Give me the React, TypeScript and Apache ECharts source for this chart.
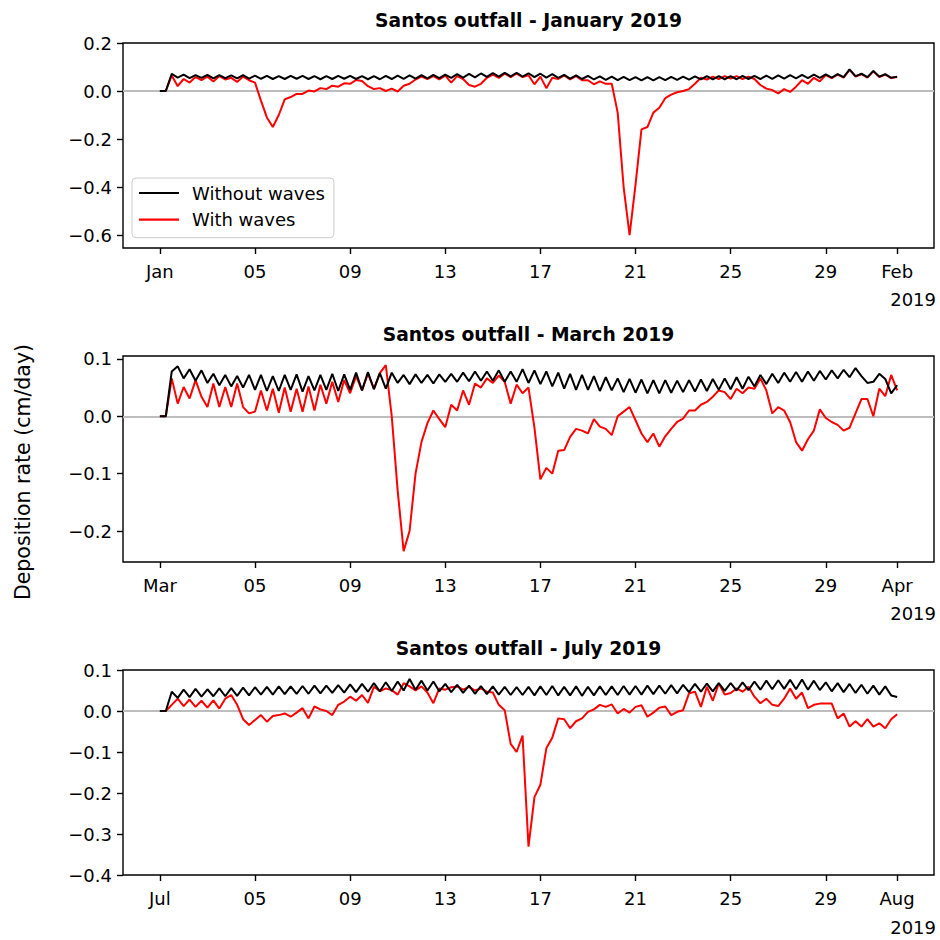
import { useEffect, useRef } from "react";
import * as echarts from "echarts";

// ---------------- data (6-hourly samples, day 0 = first of month) ----------------
const STEP_DAYS = 0.25;
const X_TICKS = [0, 4, 8, 12, 16, 20, 24, 28, 31];
const JAN_TICK_LABELS = ["Jan", "05", "09", "13", "17", "21", "25", "29", "Feb"];
const MAR_TICK_LABELS = ["Mar", "05", "09", "13", "17", "21", "25", "29", "Apr"];
const JUL_TICK_LABELS = ["Jul", "05", "09", "13", "17", "21", "25", "29", "Aug"];
const YEAR_LABEL = "2019";
const JAN_Y_TICKS = [-0.6, -0.4, -0.2, 0, 0.2];
const MAR_Y_TICKS = [-0.2, -0.1, 0, 0.1];
const JUL_Y_TICKS = [-0.4, -0.3, -0.2, -0.1, 0, 0.1];
const TITLES = [
  "Santos outfall - January 2019",
  "Santos outfall - March 2019",
  "Santos outfall - July 2019",
];
const Y_LABEL = "Deposition rate (cm/day)";
const SERIES_NAMES = ["Without waves", "With waves"];

const JAN_WITHOUT = [
  0, 0, 0.072, 0.056,
  0.068, 0.054, 0.066, 0.055,
  0.067, 0.053, 0.066, 0.054,
  0.065, 0.053, 0.066, 0.052,
  0.064, 0.051, 0.063, 0.05,
  0.062, 0.05, 0.063, 0.051,
  0.063, 0.05, 0.062, 0.049,
  0.062, 0.05, 0.063, 0.051,
  0.063, 0.05, 0.062, 0.049,
  0.062, 0.049, 0.063, 0.05,
  0.064, 0.051, 0.065, 0.052,
  0.066, 0.053, 0.067, 0.054,
  0.068, 0.055, 0.07, 0.056,
  0.071, 0.057, 0.073, 0.059,
  0.075, 0.06, 0.076, 0.061,
  0.076, 0.06, 0.074, 0.058,
  0.072, 0.056, 0.07, 0.055,
  0.067, 0.052, 0.065, 0.05,
  0.063, 0.048, 0.061, 0.046,
  0.06, 0.045, 0.059, 0.045,
  0.058, 0.044, 0.058, 0.044,
  0.058, 0.045, 0.059, 0.046,
  0.06, 0.047, 0.061, 0.048,
  0.062, 0.048, 0.062, 0.049,
  0.062, 0.049, 0.063, 0.05,
  0.063, 0.05, 0.064, 0.051,
  0.065, 0.052, 0.066, 0.053,
  0.067, 0.054, 0.068, 0.055,
  0.069, 0.056, 0.07, 0.058,
  0.09, 0.062, 0.072, 0.058,
  0.084, 0.06, 0.07, 0.055,
  0.06,
];

const JAN_WITH = [
  0, 0, 0.065, 0.02,
  0.05, 0.035, 0.058, 0.045,
  0.06, 0.04, 0.062, 0.048,
  0.055, 0.038, 0.06, 0.045,
  0.035, -0.04, -0.11, -0.15,
  -0.1, -0.035, -0.025, -0.012,
  -0.012, 0.002, -0.002, 0.012,
  0.008, 0.022, 0.018, 0.032,
  0.03, 0.046, 0.042, 0.02,
  0.008, 0.012, 0.0, 0.01,
  -0.002, 0.022, 0.03, 0.048,
  0.06, 0.05, 0.062, 0.048,
  0.064, 0.035, 0.062, 0.05,
  0.025, 0.018, 0.03, 0.055,
  0.068, 0.055, 0.072, 0.058,
  0.072, 0.058, 0.065, 0.028,
  0.06, 0.012, 0.055, 0.05,
  0.065, 0.048, 0.062, 0.045,
  0.045, 0.028, 0.04, 0.03,
  0.03, -0.09, -0.4, -0.6,
  -0.39, -0.16, -0.15, -0.09,
  -0.07, -0.03, -0.015, -0.005,
  0.0, 0.008, 0.03, 0.055,
  0.048, 0.06, 0.05, 0.062,
  0.052, 0.062, 0.05, 0.06,
  0.05, 0.025, 0.01, 0.004,
  -0.01, 0.008, -0.004, 0.018,
  0.045, 0.03, 0.055, 0.04,
  0.066, 0.054, 0.068, 0.056,
  0.088, 0.06, 0.07, 0.056,
  0.082, 0.058, 0.068, 0.054,
  0.058,
];

const MAR_WITHOUT = [
  0, 0, 0.078, 0.087,
  0.066, 0.082, 0.062, 0.08,
  0.058, 0.074, 0.054, 0.072,
  0.052, 0.07, 0.05, 0.072,
  0.046, 0.072, 0.044, 0.07,
  0.044, 0.072, 0.046, 0.073,
  0.043, 0.07, 0.045, 0.072,
  0.046, 0.074, 0.044, 0.073,
  0.046, 0.076, 0.045, 0.077,
  0.047, 0.075, 0.048, 0.076,
  0.058, 0.072, 0.056, 0.073,
  0.058, 0.072, 0.057, 0.073,
  0.06, 0.074, 0.06, 0.076,
  0.061, 0.078, 0.062, 0.078,
  0.062, 0.08, 0.06, 0.078,
  0.06, 0.082, 0.058, 0.08,
  0.056, 0.078, 0.052, 0.076,
  0.048, 0.074, 0.046, 0.072,
  0.046, 0.07, 0.044, 0.068,
  0.045, 0.066, 0.042, 0.065,
  0.041, 0.064, 0.04, 0.063,
  0.04, 0.063, 0.041, 0.062,
  0.042, 0.063, 0.043, 0.064,
  0.044, 0.065, 0.046, 0.066,
  0.047, 0.068, 0.048, 0.069,
  0.052, 0.072, 0.056, 0.074,
  0.058, 0.076, 0.06, 0.077,
  0.06, 0.078, 0.062, 0.079,
  0.064, 0.08, 0.066, 0.081,
  0.068, 0.084, 0.07, 0.058,
  0.06, 0.074, 0.065, 0.04,
  0.054,
];

const MAR_WITH = [
  0, 0, 0.066, 0.022,
  0.051, 0.031, 0.063, 0.034,
  0.016, 0.057, 0.016, 0.051,
  0.016, 0.057, 0.016, 0.005,
  0.008, 0.045, 0.01, 0.048,
  0.006, 0.05, 0.008, 0.048,
  0.008, 0.052, 0.01, 0.055,
  0.022, 0.06, 0.025, 0.063,
  0.04, 0.07, 0.045, 0.074,
  0.048, 0.075, 0.089, 0.0,
  -0.13, -0.235, -0.2, -0.1,
  -0.045, -0.012, 0.01, -0.005,
  -0.019, 0.02, 0.01, 0.045,
  0.02, 0.057, 0.05, 0.066,
  0.058, 0.071, 0.06, 0.022,
  0.055, 0.04, 0.05, -0.02,
  -0.11, -0.09, -0.1, -0.06,
  -0.059, -0.036, -0.022, -0.025,
  -0.03, -0.005, -0.018, -0.022,
  -0.033, 0.0, 0.008, 0.016,
  -0.007, -0.03, -0.045, -0.03,
  -0.053, -0.035, -0.022, -0.01,
  -0.004, 0.01, 0.01, 0.02,
  0.025, 0.034, 0.045, 0.042,
  0.03, 0.048, 0.04, 0.05,
  0.048, 0.066, 0.045, 0.005,
  0.016, 0.01, -0.01, -0.045,
  -0.06, -0.04, -0.025, 0.012,
  -0.003, -0.01, -0.015, -0.025,
  -0.02, 0.005, 0.03, 0.03,
  0.0, 0.048, 0.035, 0.072,
  0.045,
];

const JUL_WITHOUT = [
  0, 0, 0.047, 0.032,
  0.052, 0.034, 0.054, 0.035,
  0.053, 0.036, 0.055, 0.036,
  0.056, 0.037, 0.057, 0.038,
  0.058, 0.04, 0.059, 0.04,
  0.06, 0.041, 0.06, 0.042,
  0.061, 0.042, 0.062, 0.043,
  0.062, 0.044, 0.063, 0.045,
  0.065, 0.046, 0.066, 0.047,
  0.068, 0.048, 0.07, 0.049,
  0.072, 0.05, 0.078, 0.052,
  0.074, 0.05, 0.072, 0.048,
  0.066, 0.046, 0.064, 0.044,
  0.062, 0.042, 0.061, 0.041,
  0.06, 0.04, 0.059, 0.039,
  0.058, 0.039, 0.059, 0.038,
  0.06, 0.039, 0.061, 0.038,
  0.059, 0.038, 0.06, 0.037,
  0.059, 0.038, 0.06, 0.039,
  0.06, 0.039, 0.061, 0.04,
  0.061, 0.04, 0.062, 0.041,
  0.062, 0.042, 0.063, 0.043,
  0.064, 0.046, 0.066, 0.047,
  0.067, 0.048, 0.068, 0.049,
  0.068, 0.05, 0.07, 0.051,
  0.072, 0.052, 0.074, 0.053,
  0.075, 0.054, 0.076, 0.053,
  0.077, 0.052, 0.074, 0.051,
  0.07, 0.048, 0.068, 0.046,
  0.066, 0.044, 0.064, 0.042,
  0.062, 0.04, 0.06, 0.038,
  0.034,
];

const JUL_WITH = [
  0, 0, 0.015, 0.03,
  0.012, 0.028, 0.01, 0.025,
  0.008, 0.026, 0.006, 0.03,
  0.039, 0.015, -0.02, -0.034,
  -0.022, -0.01, -0.026, -0.012,
  -0.01, -0.006, -0.014, -0.004,
  0.007, -0.018, 0.011, 0.004,
  0.0, -0.01, 0.015, 0.023,
  0.035, 0.025, 0.039, 0.02,
  0.059, 0.048, 0.055, 0.051,
  0.04, 0.068, 0.06, 0.05,
  0.06, 0.045, 0.019, 0.055,
  0.052, 0.058, 0.06, 0.052,
  0.059, 0.05, 0.055, 0.047,
  0.045, 0.015, 0.002, -0.08,
  -0.1, -0.06, -0.331, -0.21,
  -0.18, -0.091, -0.065, -0.018,
  -0.02, -0.042, -0.025, -0.018,
  -0.002, 0.004, 0.015, 0.01,
  0.016, -0.006, 0.005, -0.004,
  0.01, 0.014, -0.014, -0.004,
  0.008, 0.011, -0.01, -0.002,
  0.002, 0.043, 0.047, 0.01,
  0.059, 0.025, 0.067, 0.04,
  0.044, 0.055, 0.047, 0.059,
  0.035, 0.019, 0.03, 0.015,
  0.012, 0.03, 0.055, 0.03,
  0.045, 0.007, 0.015, 0.018,
  0.018, 0.018, -0.018, -0.006,
  -0.038, -0.025, -0.038, -0.02,
  -0.038, -0.03, -0.042, -0.02,
  -0.008,
];

// ---------------- layout / style ----------------
const FONT = "DejaVu Sans";
const GRID_LEFT = 123;
const GRID_WIDTH = 811;
const X_MIN = -1.55;
const X_MAX = 32.55;

const PANELS = [
  { title: TITLES[0], top: 43, height: 205, yMin: -0.654, yMax: 0.2, yTicks: JAN_Y_TICKS, xLabels: JAN_TICK_LABELS, without: JAN_WITHOUT, withW: JAN_WITH, titleY: 20, yearY: 299 },
  { title: TITLES[1], top: 356, height: 206, yMin: -0.254, yMax: 0.105, yTicks: MAR_Y_TICKS, xLabels: MAR_TICK_LABELS, without: MAR_WITHOUT, withW: MAR_WITH, titleY: 334, yearY: 613 },
  { title: TITLES[2], top: 670, height: 205, yMin: -0.4, yMax: 0.1, yTicks: JUL_Y_TICKS, xLabels: JUL_TICK_LABELS, without: JUL_WITHOUT, withW: JUL_WITH, titleY: 648, yearY: 927 },
];

const toPairs = (vals: number[]) => vals.map((v, i) => [i * STEP_DAYS, v]);
const fmtY = (v: number) => {
  const r = Math.round(v * 10) / 10;
  return (r < 0 ? "\u2212" : "") + Math.abs(r).toFixed(1);
};

export default function App() {
  const ref = useRef<HTMLDivElement>(null);

  useEffect(() => {
    if (!ref.current) return;
    const chart = echarts.init(ref.current, undefined, { renderer: "svg" });

    const grids = PANELS.map((p) => ({
      left: GRID_LEFT,
      top: p.top,
      width: GRID_WIDTH,
      height: p.height,
      show: true,
      borderColor: "#000",
      borderWidth: 1.4,
      backgroundColor: "transparent",
    }));

    const xAxes = PANELS.map((p, i) => ({
      type: "value",
      gridIndex: i,
      position: "bottom",
      min: X_MIN,
      max: X_MAX,
      axisLine: { show: false, onZero: false },
      splitLine: { show: false },
      axisTick: {
        show: true,
        customValues: X_TICKS,
        length: 6,
        lineStyle: { color: "#000", width: 1.4 },
      },
      axisLabel: {
        customValues: X_TICKS,
        formatter: (v: number) => {
          const k = X_TICKS.findIndex((t) => Math.abs(t - v) < 1e-6);
          return k >= 0 ? p.xLabels[k] : "";
        },
        margin: 14,
        color: "#000",
        fontSize: 18,
        fontFamily: FONT,
      },
    }));

    const yAxes = PANELS.map((p, i) => ({
      type: "value",
      gridIndex: i,
      position: "left",
      min: p.yMin,
      max: p.yMax,
      axisLine: { show: false, onZero: false },
      splitLine: { show: false },
      axisTick: {
        show: true,
        customValues: p.yTicks,
        length: 6,
        lineStyle: { color: "#000", width: 1.4 },
      },
      axisLabel: {
        customValues: p.yTicks,
        formatter: fmtY,
        margin: 11,
        color: "#000",
        fontSize: 18,
        fontFamily: FONT,
      },
    }));

    const series: any[] = [];
    PANELS.forEach((p, i) => {
      series.push({
        type: "line",
        name: SERIES_NAMES[1],
        xAxisIndex: i,
        yAxisIndex: i,
        data: toPairs(p.withW),
        symbol: "none",
        showSymbol: false,
        lineStyle: { color: "#ff0000", width: 2 },
        itemStyle: { color: "#ff0000" },
        z: 2,
        markLine: {
          silent: true,
          symbol: "none",
          z: 1,
          label: { show: false },
          lineStyle: { color: "#bdbdbd", width: 2, type: "solid" },
          emphasis: { disabled: true },
          data: [{ yAxis: 0 }],
        },
      });
      series.push({
        type: "line",
        name: SERIES_NAMES[0],
        xAxisIndex: i,
        yAxisIndex: i,
        data: toPairs(p.without),
        symbol: "none",
        showSymbol: false,
        lineStyle: { color: "#000000", width: 2 },
        itemStyle: { color: "#000000" },
        z: 3,
      });
    });

    const graphic: any[] = [];
    PANELS.forEach((p) => {
      graphic.push({
        type: "text",
        x: GRID_LEFT + GRID_WIDTH / 2,
        y: p.titleY,
        style: {
          text: p.title,
          fontFamily: FONT,
          fontSize: 18.7,
          fontWeight: "bold",
          fill: "#000",
          align: "center",
          verticalAlign: "middle",
        },
      });
      graphic.push({
        type: "text",
        x: 936,
        y: p.yearY,
        style: {
          text: YEAR_LABEL,
          fontFamily: FONT,
          fontSize: 18,
          fill: "#000",
          align: "right",
          verticalAlign: "middle",
        },
      });
    });
    graphic.push({
      type: "text",
      x: 23,
      y: 472,
      rotation: Math.PI / 2,
      style: {
        text: Y_LABEL,
        fontFamily: FONT,
        fontSize: 20.5,
        fill: "#000",
        align: "center",
        verticalAlign: "middle",
      },
    });

    chart.setOption({
      animation: false,
      backgroundColor: "#ffffff",
      textStyle: { fontFamily: FONT },
      grid: grids,
      xAxis: xAxes,
      yAxis: yAxes,
      series,
      graphic,
      legend: {
        data: [SERIES_NAMES[0], SERIES_NAMES[1]],
        orient: "vertical",
        left: 132,
        top: 178,
        padding: [6, 9, 9, 7],
        itemGap: 8.7,
        itemWidth: 40,
        itemHeight: 2.2,
        icon: "rect",
        backgroundColor: "rgba(255,255,255,0.85)",
        borderColor: "#cccccc",
        borderWidth: 1,
        borderRadius: 4,
        selectedMode: false,
        textStyle: {
          fontFamily: FONT,
          fontSize: 18,
          color: "#000",
          padding: [0, 0, 0, 8],
        },
      },
    });

    return () => chart.dispose();
  }, []);

  return (
    <div
      ref={ref}
      style={{ position: "absolute", left: 0, top: 0, width: 940, height: 940 }}
    />
  );
}
